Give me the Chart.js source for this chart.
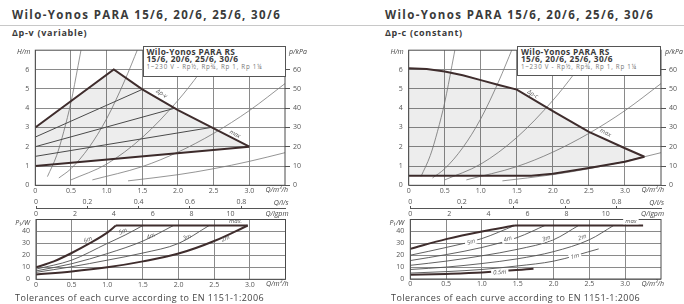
<!DOCTYPE html>
<html>
<head>
<meta charset="utf-8">
<title>Wilo-Yonos PARA 15/6 - pump curves</title>
<script src="https://cdn.jsdelivr.net/npm/chart.js@4.4.1/dist/chart.umd.min.js"></script>
<style>
  body { margin: 0; background: #fff; font-family: 'Open Sans', sans-serif; color: #3a3a3a; }
  #page { position: relative; width: 684px; height: 304px; overflow: hidden; }
  .title { position: absolute; top: 7px; font-size: 11.5px; letter-spacing: 1.37px; font-weight: bold; white-space: nowrap; }
  .mode { position: absolute; top: 26px; font-size: 9px; letter-spacing: 0.7px; font-weight: bold; white-space: nowrap; }
  .rule { position: absolute; top: 25px; left: 0; width: 684px; height: 1px; background: #c8c8c8; }
  .note { position: absolute; top: 291px; font-size: 9px; letter-spacing: 0.44px; white-space: nowrap; color: #444; }
  .box { position: absolute; background: #fff; border: 1px solid #555; box-sizing: border-box; padding: 1px 0 0 3px; line-height: 7.8px; z-index: 2; }
  .box b { display: block; font-size: 8.3px; letter-spacing: 0.35px; }
  .box span { display: block; font-size: 6.2px; letter-spacing: 0.75px; color: #777; margin-top: 0; }
  canvas { position: absolute; }
</style>
</head>
<body>
<div id="page">
  <div class="title" style="left:12px">Wilo-Yonos PARA 15/6, 20/6, 25/6, 30/6</div>
  <div class="title" style="left:385px">Wilo-Yonos PARA 15/6, 20/6, 25/6, 30/6</div>
  <div class="rule"></div>
  <div class="mode" style="left:12px">Δp-v (variable)</div>
  <div class="mode" style="left:385px">Δp-c (constant)</div>

  <canvas id="varHead" width="342" height="162" style="left:0;top:40px"></canvas>
  <canvas id="varPower" width="342" height="102" style="left:0;top:193px"></canvas>
  <canvas id="conHead" width="342" height="162" style="left:342px;top:40px"></canvas>
  <canvas id="conPower" width="342" height="102" style="left:342px;top:193px"></canvas>

  <div class="box" style="left:142.5px;top:45.5px;width:143px;height:31.5px">
    <b>Wilo-Yonos PARA RS</b><b>15/6, 20/6, 25/6, 30/6</b><span>1~230 V - Rp½, Rp¾, Rp 1, Rp 1¼</span>
  </div>
  <div class="box" style="left:517px;top:45.5px;width:144px;height:30px">
    <b>Wilo-Yonos PARA RS</b><b>15/6, 20/6, 25/6, 30/6</b><span>1~230 V - Rp½, Rp¾, Rp 1, Rp 1¼</span>
  </div>

  <div class="note" style="left:15px">Tolerances of each curve according to EN 1151-1:2006</div>
  <div class="note" style="left:391px">Tolerances of each curve according to EN 1151-1:2006</div>
</div>

<script>
// tick labels
const qTicks = [0, 0.5, 1.0, 1.5, 2.0, 2.5, 3.0];
const hTicks = [0, 1, 2, 3, 4, 5, 6];
const kpaTicks = [0, 10, 20, 30, 40, 50, 60];
const pTicks = [0, 10, 20, 30, 40];
const lsTicks = [0, 0.2, 0.4, 0.6, 0.8];
const gpmTicks = [0, 2, 4, 6, 8, 10];

// system curves [Q m3/h, H m] - same in both head charts
const sys1 = [[0.17, 0.45], [0.3, 1.55], [0.4, 2.8], [0.5, 4.3], [0.6, 6.2], [0.66, 7.4]];
const sys2 = [[0.33, 0.38], [0.5, 0.86], [0.75, 1.95], [1.0, 3.45], [1.25, 5.4], [1.44, 7.1]];
const sys3 = [[0.5, 0.28], [1.0, 1.1], [1.5, 2.48], [2.0, 4.4], [2.3, 5.8], [2.55, 7.1]];
const sys4 = [[0.8, 0.28], [1.5, 0.97], [2.0, 1.72], [2.5, 2.69], [3.0, 3.87], [3.5, 5.27]];
const sys5 = [[1.3, 0.23], [2.0, 0.55], [2.5, 0.86], [3.0, 1.24], [3.5, 1.69]];

// delta p-v head
const varMax = [[0, 3], [1.1, 6], [1.5, 4.97], [2.0, 3.9], [2.5, 2.95], [3.0, 2.0]];
const varMin = [[0, 1], [3.0, 2.0]];
const var5 = [[0, 2.5], [1.5, 4.97]];
const var4 = [[0, 2.0], [1.96, 4.0]];
const var3 = [[0, 1.5], [2.47, 3.0]];
const varHTagText = ['Δp-v', 'max'];
const varHTagQ = [1.77, 2.8];
const varHTagH = [4.75, 2.65];

// delta p-c head
const conMax = [[0, 6.07], [0.25, 6.02], [0.5, 5.9], [0.75, 5.7], [1.0, 5.45], [1.25, 5.2], [1.5, 4.96], [2.0, 3.84], [2.5, 2.77], [3.0, 1.92], [3.27, 1.48]];
const conMin = [[0, 0.5], [1.7, 0.5], [2.0, 0.6], [2.5, 0.9], [3.0, 1.22], [3.27, 1.48]];
const conHTagText = ['Δp-c', 'max'];
const conHTagQ = [1.72, 2.73];
const conHTagH = [4.72, 2.72];

// delta p-v power [Q m3/h, P1 W]
const varP6 = [[0, 10], [0.25, 15], [0.5, 22], [0.75, 30], [1.0, 39], [1.12, 45]];
const varPMax = [[1.12, 45], [2.97, 45]];
const varP5 = [[0, 8.5], [0.5, 16], [1.0, 30], [1.25, 37], [1.5, 45]];
const varP4 = [[0, 7], [0.5, 13], [1.0, 21.5], [1.5, 32], [1.93, 45]];
const varP3 = [[0, 5.8], [0.5, 10.5], [1.0, 16], [1.5, 22], [2.0, 30], [2.43, 45]];
const varP2 = [[0, 4], [0.5, 6.5], [1.0, 10], [1.5, 15], [2.0, 21.5], [2.5, 32], [2.97, 45]];
const varPTagText = ['6m', '5m', '4m', '3m', '2m', 'max.'];
const varPTagQ = [0.73, 1.22, 1.61, 2.12, 2.66, 2.8];
const varPTagP = [33, 40, 36, 35, 34, 48.5];

// delta p-c power
const conPMaxCurve = [[0, 25.3], [0.5, 33.5], [1.0, 40], [1.46, 45]];
const conPMax = [[1.46, 45], [3.25, 45]];
const conP5 = [[0, 20], [0.5, 26.5], [1.0, 34], [1.46, 45]];
const conP4 = [[0, 15.5], [0.5, 20.5], [1.0, 26.5], [1.5, 35], [1.88, 45]];
const conP3 = [[0, 11.5], [0.5, 15], [1.0, 19.5], [1.5, 25], [2.0, 33], [2.35, 45]];
const conP2 = [[0, 8], [0.5, 10], [1.0, 13], [1.5, 17], [2.0, 23], [2.5, 33], [2.84, 45]];
const conP1 = [[0, 5], [0.5, 6.2], [1.0, 8], [1.5, 11], [2.0, 15], [2.63, 25.3]];
const conP05 = [[0, 3.5], [0.5, 4.3], [1.0, 5.5], [1.72, 8.7]];
const conPTagText = ['5m', '4m', '3m', '2m', '1m', '0.5m', 'max'];
const conPTagQ = [0.85, 1.36, 1.9, 2.4, 2.3, 1.25, 3.08];
const conPTagP = [31, 33.5, 34, 35, 19, 5.5, 48.5];

const M3H_TO_LS = 1 / 3.6;
const M3H_TO_GPM = 1 / 0.272765;

const dark = '#3f2d2d', thin = '#505050', sysColor = '#7a7a7a', grid = '#8a8a8a';
const shade = 'rgba(0,0,0,0.07)';
const tickFont = { family: "'Open Sans', sans-serif", size: 7 };

const pts = a => a.map(([x, y]) => ({ x, y }));
const ticksOf = arr => s => { s.ticks = arr.map(v => ({ value: v })); };
const fmtQ = v => v === 0 ? '0' : v.toFixed(1);

function line(data, color, width, extra) {
    return Object.assign({ data: pts(data), borderColor: color, borderWidth: width, pointRadius: 0, fill: false, tension: 0 }, extra || {});
}
function curve(data, color, width) {
    return line(data, color, width, { cubicInterpolationMode: 'monotone' });
}
function tags(text, q, v, angles, gap) {
    return text.map((t, i) => ({ text: t, q: q[i], v: v[i], angle: angles[i], gap: gap }));
}

// frame, unit names and curve names
const decor = {
    id: 'decor',
    afterDatasetsDraw(chart, args, o) {
        const { ctx, chartArea: a, scales } = chart;
        ctx.save();
        ctx.strokeStyle = '#4a4a4a';
        ctx.lineWidth = 1;
        ctx.strokeRect(a.left, a.top, a.right - a.left, a.bottom - a.top);

        ctx.fillStyle = '#444';
        ctx.textBaseline = 'middle';
        ctx.font = "italic 7px 'Open Sans', sans-serif";
        (o.units || []).forEach(u => {
            ctx.textAlign = u.align;
            ctx.fillText(u.text, u.side === 'l' ? a.left + u.dx : a.right + u.dx, u.edge === 't' ? a.top + u.dy : a.bottom + u.dy);
        });

        ctx.font = "italic 6px 'Open Sans', sans-serif";
        ctx.textAlign = 'center';
        (o.tags || []).forEach(t => {
            const x = scales.x.getPixelForValue(t.q);
            const y = scales.y.getPixelForValue(t.v);
            ctx.save();
            ctx.translate(x, y);
            ctx.rotate(t.angle * Math.PI / 180);
            if (t.gap) {
                const w = ctx.measureText(t.text).width;
                ctx.fillStyle = '#fff';
                ctx.fillRect(-w / 2 - 2, -3, w + 4, 6);
            }
            ctx.fillStyle = '#555';
            ctx.fillText(t.text, 0, 0);
            ctx.restore();
        });
        ctx.restore();
    }
};

function headChart(id, area, datasets, tagList) {
    const cv = document.getElementById(id);
    return new Chart(cv, {
        type: 'line',
        data: { datasets },
        plugins: [decor],
        options: {
            responsive: false, animation: false, devicePixelRatio: 1,
            layout: { padding: { top: area.top, left: 0, right: 0, bottom: 0 }, autoPadding: false },
            plugins: {
                legend: { display: false }, tooltip: { enabled: false },
                decor: {
                    tags: tagList,
                    units: [
                        { text: 'H/m', side: 'l', edge: 't', dx: -5, dy: 2, align: 'right' },
                        { text: 'p/kPa', side: 'r', edge: 't', dx: 4, dy: 2, align: 'left' },
                        { text: 'Q/m³/h', side: 'r', edge: 'b', dx: 3, dy: 5, align: 'right' }
                    ]
                }
            },
            scales: {
                x: {
                    type: 'linear', min: 0, max: 3.5,
                    afterFit: s => { s.height = cv.height - area.bottom; },
                    afterBuildTicks: ticksOf(qTicks),
                    ticks: { callback: fmtQ, padding: 1, font: tickFont, color: '#555', maxRotation: 0, autoSkip: false },
                    grid: { color: grid, drawTicks: false },
                    border: { display: false }
                },
                y: {
                    position: 'left', min: 0, max: 7,
                    afterFit: s => { s.width = area.left; },
                    afterBuildTicks: ticksOf(hTicks),
                    ticks: { padding: 6, font: tickFont, color: '#555' },
                    grid: { color: grid, drawTicks: false },
                    border: { display: false }
                },
                y2: {
                    position: 'right', min: 0, max: 70,
                    afterFit: s => { s.width = cv.width - area.right; },
                    afterBuildTicks: ticksOf(kpaTicks),
                    ticks: { padding: 3, font: tickFont, color: '#555' },
                    grid: { drawOnChartArea: false, tickLength: 5, color: '#555' },
                    border: { display: false }
                }
            }
        }
    });
}

function powerChart(id, area, datasets, tagList) {
    const cv = document.getElementById(id);
    return new Chart(cv, {
        type: 'line',
        data: { datasets },
        plugins: [decor],
        options: {
            responsive: false, animation: false, devicePixelRatio: 1,
            layout: { padding: 0, autoPadding: false },
            plugins: {
                legend: { display: false }, tooltip: { enabled: false },
                decor: {
                    tags: tagList,
                    units: [
                        { text: 'P₁/W', side: 'l', edge: 't', dx: -6, dy: 3, align: 'right' },
                        { text: 'Q/l/s', side: 'r', edge: 't', dx: 3, dy: -17, align: 'right' },
                        { text: 'Q/lgpm', side: 'r', edge: 't', dx: 3, dy: -6, align: 'right' },
                        { text: 'Q/m³/h', side: 'r', edge: 'b', dx: 3, dy: 5, align: 'right' }
                    ]
                }
            },
            scales: {
                x: {
                    type: 'linear', min: 0, max: 3.5,
                    afterFit: s => { s.height = cv.height - area.bottom; },
                    afterBuildTicks: ticksOf(qTicks),
                    ticks: { callback: fmtQ, padding: 1, font: tickFont, color: '#555', maxRotation: 0, autoSkip: false },
                    grid: { color: grid, drawTicks: false },
                    border: { display: false }
                },
                xls: {
                    type: 'linear', position: 'top', weight: 2, min: 0, max: 3.5 * M3H_TO_LS,
                    afterFit: s => { s.height = area.lsH; },
                    afterBuildTicks: ticksOf(lsTicks),
                    ticks: { callback: v => v === 0 ? '0' : v.toFixed(1), padding: 0, font: tickFont, color: '#555', maxRotation: 0, autoSkip: false },
                    grid: { drawOnChartArea: false, tickLength: 2, color: '#555' },
                    border: { display: true, color: '#555' }
                },
                xgpm: {
                    type: 'linear', position: 'top', weight: 1, min: 0, max: 3.5 * M3H_TO_GPM,
                    afterFit: s => { s.height = area.top - area.lsH; },
                    afterBuildTicks: ticksOf(gpmTicks),
                    ticks: { padding: 1, font: tickFont, color: '#555', maxRotation: 0, autoSkip: false },
                    grid: { display: false, drawTicks: false },
                    border: { display: false }
                },
                y: {
                    position: 'left', min: 0, max: 50,
                    afterFit: s => { s.width = area.left; },
                    afterBuildTicks: ticksOf(pTicks),
                    ticks: { padding: 6, font: tickFont, color: '#555' },
                    grid: { color: grid, drawTicks: false },
                    border: { display: false }
                },
                yr: {
                    position: 'right', display: true,
                    afterFit: s => { s.width = cv.width - area.right; },
                    ticks: { display: false }, grid: { display: false }, border: { display: false }
                }
            }
        }
    });
}

headChart('varHead', { left: 35.3, right: 285, top: 5.5, bottom: 145.3 }, [
    line(varMax, dark, 2, { fill: { target: 1, above: shade, below: shade } }),
    line(varMin, dark, 2),
    line(var5, thin, 1), line(var4, thin, 1), line(var3, thin, 1),
    curve(sys1, sysColor, 0.8), curve(sys2, sysColor, 0.8), curve(sys3, sysColor, 0.8),
    curve(sys4, sysColor, 0.8), curve(sys5, sysColor, 0.8)
], tags(varHTagText, varHTagQ, varHTagH, [33, 28], false));

headChart('conHead', { left: 66.7, right: 319, top: 5.5, bottom: 145.3 }, [
    line(conMax, dark, 2, { fill: { target: 1, above: shade, below: shade } }),
    line(conMin, dark, 2),
    curve(sys1, sysColor, 0.8), curve(sys2, sysColor, 0.8), curve(sys3, sysColor, 0.8),
    curve(sys4, sysColor, 0.8), curve(sys5, sysColor, 0.8)
], tags(conHTagText, conHTagQ, conHTagH, [31, 28], false));

powerChart('varPower', { left: 36, right: 285.5, top: 26.5, lsH: 15, bottom: 86.3 }, [
    curve(varP6, dark, 2), line(varPMax, dark, 2),
    curve(varP5, thin, 0.9), curve(varP4, thin, 0.9), curve(varP3, thin, 0.9),
    curve(varP2, dark, 2)
], tags(varPTagText, varPTagQ, varPTagP, [-24, -24, -22, -22, -22, 0], false));

powerChart('conPower', { left: 68.3, right: 319, top: 26.5, lsH: 15, bottom: 86 }, [
    curve(conPMaxCurve, dark, 2), line(conPMax, dark, 2),
    curve(conP5, thin, 0.9), curve(conP4, thin, 0.9), curve(conP3, thin, 0.9),
    curve(conP2, thin, 0.9), curve(conP1, thin, 0.9), curve(conP05, dark, 2)
], tags(conPTagText, conPTagQ, conPTagP, [-18, -18, -20, -20, -15, -3, 0], true));
</script>
</body>
</html>
